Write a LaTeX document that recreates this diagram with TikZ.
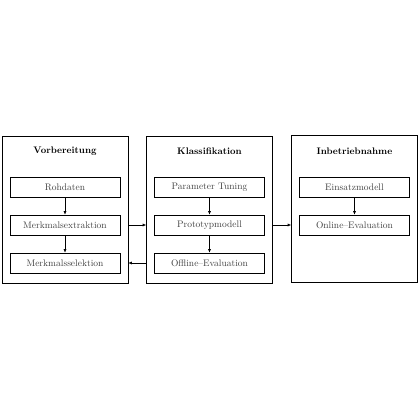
\documentclass[tikz,border=0pt]{standalone}
\usetikzlibrary{arrows.meta}
\begin{document}
\begin{tikzpicture}[x=1pt,y=-1pt,
  outer/.style={draw,line width=0.6pt,minimum width=126pt,minimum height=147pt,inner sep=0pt},
  inner/.style={draw,line width=0.6pt,minimum width=110pt,minimum height=20pt,inner sep=0pt,text=black!75,font=\fontsize{9.5}{11}\selectfont},
  ttl/.style={font=\fontsize{9.5}{11}\selectfont\bfseries,inner sep=0pt},
  arr/.style={-{Latex[length=3.5pt,width=3pt]},line width=0.6pt}]
\useasboundingbox (0,0) rectangle (420,420);
\node[outer] (A) at (65,209.5) {};
\node[outer] (B) at (209.5,209.5) {};
\node[outer] (C) at (354.5,209) {};
\node[ttl] (tA) at (65,151) {Vorbereitung};
\node[ttl] (tB) at (209.5,151) {Klassifikation};
\node[ttl] (tC) at (354.5,151) {Inbetriebnahme};
\node[inner] (a1) at (65,187) {Rohdaten};
\node[inner] (a2) at (65,225) {Merkmalsextraktion};
\node[inner] (a3) at (65,263) {Merkmalsselektion};
\node[inner] (b1) at (209.5,187) {Parameter Tuning};
\node[inner] (b2) at (209.5,225) {Prototypmodell};
\node[inner] (b3) at (209.5,263) {Offline--Evaluation};
\node[inner] (c1) at (354.5,187) {Einsatzmodell};
\node[inner] (c2) at (354.5,225) {Online--Evaluation};
\draw[arr] (a1) -- (a2);
\draw[arr] (a2) -- (a3);
\draw[arr] (b1) -- (b2);
\draw[arr] (b2) -- (b3);
\draw[arr] (c1) -- (c2);
\draw[arr] (A.east |- a2) -- (B.west |- a2);
\draw[arr] (B.west |- b3) -- (A.east |- b3);
\draw[arr] (B.east |- b2) -- (C.west |- b2);
\end{tikzpicture}
\end{document}
